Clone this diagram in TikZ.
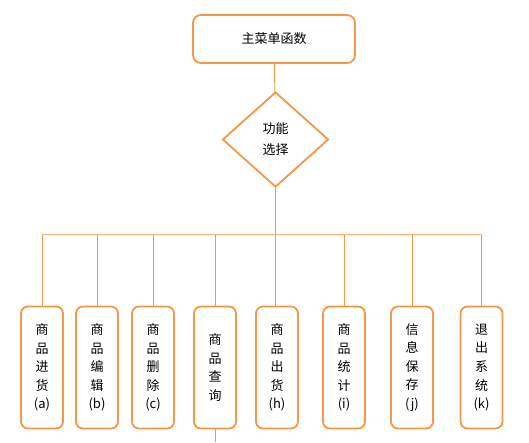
\documentclass[tikz,border=0pt]{standalone}
\usepackage{fontspec}
\setmainfont{Noto Sans CJK SC}
\usepackage{tikz}
\usetikzlibrary{positioning,shapes.geometric}
\definecolor{wordorange}{HTML}{F79646}
\tikzset{
    mainbox/.style={rectangle,rounded corners=8pt,
        minimum width=162pt, minimum height=48pt, inner sep=0pt,
        draw=wordorange,line width=1.8pt,font=\fontsize{13}{14}\selectfont},
    choice/.style={diamond,aspect=1.13,
        minimum width=106pt, minimum height=95pt, inner sep=0pt,
        draw=wordorange,line width=1.8pt,align=center,
        font=\fontsize{13}{21}\selectfont},
    item/.style={rectangle,rounded corners=7pt,
        minimum width=42pt, minimum height=122pt, inner sep=0pt,
        draw=wordorange,line width=1.8pt,align=center,
        font=\fontsize{13}{18.6}\selectfont},
    link/.style={draw=wordorange, line width=0.8pt},
    buslink/.style={draw=wordorange!75, line width=1pt}
}
\begin{document}
\begin{tikzpicture}[x=1pt,y=1pt]
    \useasboundingbox (0,0) rectangle (529,-442);
    \node[mainbox] (menu) at (274,-39) {主菜单函数};
    \node[choice] (select) at (275.5,-139.5) {功能\\选择};
    \coordinate (bus) at (275.5,-234.5);
    \node[item] (a) at (42,-367.5) {商\\品\\进\\货\\(a)};
    \node[item] (b) at (97,-367.5) {商\\品\\编\\辑\\(b)};
    \node[item] (c) at (153,-367.5) {商\\品\\删\\除\\(c)};
    \node[item] (d) at (215,-367.5) {商\\品\\查\\询};
    \node[item] (h) at (277,-367.5) {商\\品\\出\\货\\(h)};
    \node[item] (i) at (344,-367.5) {商\\品\\统\\计\\(i)};
    \node[item] (j) at (412,-367.5) {信\\息\\保\\存\\(j)};
    \node[item] (k) at (481.5,-367.5) {退\\出\\系\\统\\(k)};
    \coordinate (dend) at (d.south |- 0,-442);
    \path (menu) edge [link] (select)
        (select) edge [link] (select.south |- h.north);
    \draw[buslink] (a.north |- bus) -- (k.north |- bus);
    \foreach \n in {a,b,c,d,i,j,k}
        \draw[link] (\n.north |- bus) -- (\n.north);
    \draw[link] (d.south) -- (dend);
\end{tikzpicture}
\end{document}
